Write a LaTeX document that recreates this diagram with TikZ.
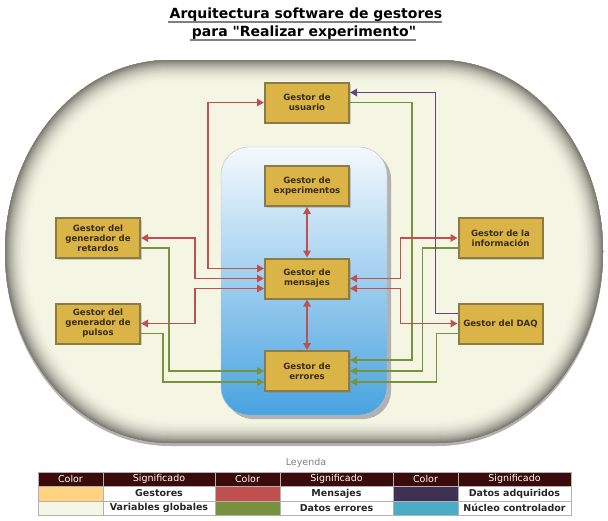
\documentclass[tikz,border=0pt]{standalone}
\usepackage{fontspec}
\setmainfont{DejaVu Sans}
\newfontfamily\titulofont{DejaVu Sans}[Ligatures=ResetAll]
\usetikzlibrary{arrows.meta,shadows}
\definecolor{gestor}{HTML}{DAB446}
\definecolor{gestorborde}{HTML}{8A7C44}
\definecolor{gestortexto}{HTML}{3A2C10}
\definecolor{mired}{HTML}{C0504D}
\definecolor{migreen}{HTML}{77933C}
\definecolor{mipurple}{HTML}{5F497A}
\definecolor{crema}{HTML}{F5F5E4}
\definecolor{borde}{HTML}{707068}
\definecolor{azulclaro}{HTML}{F4F9FD}
\definecolor{azul}{HTML}{48A3E0}
\definecolor{cabecera}{HTML}{3B0A0A}
\definecolor{leyorange}{HTML}{FFD37F}
\definecolor{leycrema}{HTML}{F5F7E6}
\definecolor{leygreen}{HTML}{76923C}
\definecolor{leypurple}{HTML}{3F3151}
\definecolor{leyblue}{HTML}{4BACC6}
%% contorno del nucleo (dos medias elipses unidas por rectas)
\newcommand{\contorno}{(170,-60) -- (438,-60) arc[start angle=90,end angle=-90,x radius=165,y radius=191.5] -- (170,-443) arc[start angle=270,end angle=90,x radius=165,y radius=191.5] -- cycle}

\begin{document}
\begin{tikzpicture}[x=1pt,y=1pt,
	gestorbox/.style={draw=gestorborde, line width=2pt, fill=gestor, minimum width=84pt, minimum height=40pt, inner sep=1pt, align=center, text=gestortexto, font=\fontsize{8.6}{10}\selectfont\bfseries, drop shadow={shadow xshift=1.5pt, shadow yshift=-1.5pt, opacity=0.35}},
	msg/.style={mired, line width=1.5pt, {Triangle[length=7pt,width=7.5pt]}-{Triangle[length=7pt,width=7.5pt]}},
	err/.style={migreen, line width=1.5pt, -{Triangle[length=7pt,width=7.5pt]}},
	adq/.style={mipurple, line width=1.5pt, -{Triangle[length=7pt,width=7.5pt]}},
	cab/.style={text=white, font=\fontsize{9.5}{10}\selectfont},
	celda/.style={text=black!85, font=\fontsize{9.5}{10}\selectfont\bfseries}]
	\useasboundingbox (0,0) rectangle (608,-520);
	\fill[white] (0,0) rectangle (608,-520);
	%% Titulo subrayado
	\node[anchor=base, inner sep=0pt, font=\titulofont\fontsize{14}{16}\selectfont\bfseries] (titulo1) at (306,-18) {Arquitectura software de gestores};
	\node[anchor=base, inner sep=0pt, font=\titulofont\fontsize{14}{16}\selectfont\bfseries] (titulo2) at (304,-36) {para "Realizar experimento"};
	\draw[gray, line width=1.2pt] ([xshift=-2pt,yshift=-4pt]titulo1.base west) -- ([yshift=-4pt]titulo1.base east);
	\draw[gray, line width=1.2pt] ([xshift=-2pt,yshift=-4pt]titulo2.base west) -- ([yshift=-4pt]titulo2.base east);
	%% Fondo crema con borde sombreado
	\begin{scope}[yshift=-3pt]
		\fill[gray!60] \contorno;
	\end{scope}
	\fill[crema] \contorno;
	\begin{scope}
		\clip \contorno;
		\foreach \w in {56,54,...,2} {
			\pgfmathtruncatemacro\p{100*(1-\w/56)^2.6}
			\draw[line width=\w pt, color=borde!\p!crema] \contorno;
		}
	\end{scope}
	%% Nucleo controlador (rectangulo azul)
	\fill[black!30, rounded corners=28pt] (225,-151) rectangle (391,-419);
	\shade[top color=azulclaro, bottom color=azul, draw=gray!50, rounded corners=28pt] (221,-147) rectangle (387,-415);
	%% Gestores
	\node[gestorbox] (usuario) at (307,-102.5) {Gestor de\\usuario};
	\node[gestorbox] (experimentos) at (307,-186) {Gestor de\\experimentos};
	\node[gestorbox] (mensajes) at (307,-278.5) {Gestor de\\mensajes};
	\node[gestorbox] (errores) at (307,-371) {Gestor de\\errores};
	\node[gestorbox] (retardos) at (98,-238) {Gestor del\\generador de\\retardos};
	\node[gestorbox] (pulsos) at (98,-323.5) {Gestor del\\generador de\\pulsos};
	\node[gestorbox] (info) at (500.5,-238) {Gestor de la\\información};
	\node[gestorbox] (daq) at (500.5,-323.5) {Gestor del DAQ};
	%% Variables globales de errores (verde)
	\draw[err] (usuario.east) -- ++(62,0) |- ([yshift=11pt]errores.east);
	\draw[err] ([yshift=-10pt]info.west) -- ++(-35,0) |- (errores.east);
	\draw[err] ([yshift=-10pt]daq.west) -- ++(-21,0) |- ([yshift=-11pt]errores.east);
	\draw[err] ([yshift=-10pt]retardos.east) -- ++(28,0) |- (errores.west);
	\draw[err] ([yshift=-10pt]pulsos.east) -- ++(22,0) |- ([yshift=-11pt]errores.west);
	%% Datos adquiridos (morado)
	\draw[adq] ([yshift=10pt]daq.west) -- ++(-22,0) |- ([yshift=10pt]usuario.east);
	%% Mensajes (rojo)
	\draw[msg] (usuario.west) -- ++(-56,0) |- ([yshift=10pt]mensajes.west);
	\draw[msg] (retardos.east) -- ++(54,0) |- (mensajes.west);
	\draw[msg] (pulsos.east) -- ++(54,0) |- ([yshift=-10pt]mensajes.west);
	\draw[msg] (info.west) -- ++(-57,0) |- (mensajes.east);
	\draw[msg] (daq.west) -- ++(-57,0) |- ([yshift=-10pt]mensajes.east);
	\draw[msg] (experimentos.south) -- (mensajes.north);
	\draw[msg] (mensajes.south) -- (errores.north);
	%% Leyenda
	\node[text=gray, font=\fontsize{9.5}{10}\selectfont] (leyenda) at (306,-463) {Leyenda};
	\fill[cabecera] (38,-472) rectangle (571,-486);
	\fill[leyorange] (38,-486) rectangle (103,-501);
	\fill[leycrema] (38,-501) rectangle (103,-515);
	\fill[mired] (215,-486) rectangle (280,-501);
	\fill[leygreen] (215,-501) rectangle (280,-515);
	\fill[leypurple] (393,-486) rectangle (458,-501);
	\fill[leyblue] (393,-501) rectangle (458,-515);
	\draw[gray!60, line width=0.6pt] (38,-472) rectangle (571,-515);
	\draw[gray!60, line width=0.6pt] (38,-486) -- (571,-486) (38,-501) -- (571,-501);
	\draw[gray!60, line width=0.6pt] (103,-472) -- (103,-515) (215,-472) -- (215,-515) (280,-472) -- (280,-515) (393,-472) -- (393,-515) (458,-472) -- (458,-515);
	\node[cab] (c1) at (70.5,-479) {Color};
	\node[cab] (s1) at (159,-479) {Significado};
	\node[cab] (c2) at (247.5,-479) {Color};
	\node[cab] (s2) at (336.5,-479) {Significado};
	\node[cab] (c3) at (425.5,-479) {Color};
	\node[cab] (s3) at (514.5,-479) {Significado};
	\node[celda] (gestores) at (159,-493.5) {Gestores};
	\node[celda] (variables) at (159,-508) {Variables globales};
	\node[celda] (mensajesley) at (336.5,-493.5) {Mensajes};
	\node[celda] (erroresley) at (336.5,-508) {Datos errores};
	\node[celda] (adquiridos) at (514.5,-493.5) {Datos adquiridos};
	\node[celda] (nucleo) at (514.5,-508) {Núcleo controlador};
\end{tikzpicture}
\end{document}
